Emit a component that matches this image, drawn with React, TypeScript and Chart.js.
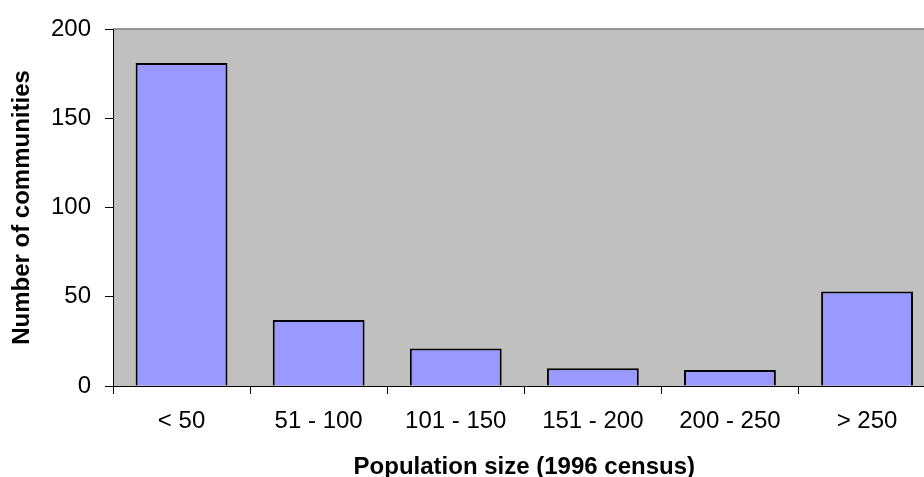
import React, { useEffect, useRef } from "react";
import { Chart, registerables } from "chart.js";

Chart.register(...registerables);

const categories = ["< 50", "51 - 100", "101 - 150", "151 - 200", "200 - 250", "> 250"];
const communities = [181, 37, 21, 10, 9, 53];
const yTicks = [0, 50, 100, 150, 200];
const xTitle = "Population size (1996 census)";
const yTitle = "Number of communities";

const FONT = "'Liberation Sans', Arial, sans-serif";

const plotBg = {
  id: "plotBg",
  beforeDraw(chart: any) {
    const { ctx, chartArea } = chart;
    if (!chartArea) return;
    ctx.save();
    ctx.fillStyle = "#C0C0C0";
    ctx.fillRect(chartArea.left, chartArea.top, chartArea.right - chartArea.left, chartArea.bottom - chartArea.top);
    ctx.strokeStyle = "#808080";
    ctx.lineWidth = 1.5;
    ctx.beginPath();
    ctx.moveTo(chartArea.left, chartArea.top);
    ctx.lineTo(chartArea.right, chartArea.top);
    ctx.lineTo(chartArea.right, chartArea.bottom);
    ctx.stroke();
    ctx.restore();
  },
};

export default function App() {
  const ref = useRef<HTMLCanvasElement | null>(null);
  useEffect(() => {
    if (!ref.current) return;
    const chart = new Chart(ref.current, {
      type: "bar",
      data: {
        labels: categories,
        datasets: [
          {
            data: communities,
            backgroundColor: "#9999FF",
            borderColor: "#000000",
            borderWidth: 2,
            categoryPercentage: 1,
            barPercentage: 0.67,
          },
        ],
      },
      plugins: [plotBg],
      options: {
        animation: false,
        responsive: false,
        devicePixelRatio: 1,
        layout: { padding: { top: 29, right: 24.4, bottom: 0, left: 0 } },
        plugins: { legend: { display: false }, tooltip: { enabled: false } },
        scales: {
          x: {
            afterFit(scale: any) {
              scale.height = 104;
            },
            grid: { drawOnChartArea: false, drawTicks: true, tickLength: 8, color: "#000", offset: true },
            border: { display: true, color: "#000", width: 1 },
            ticks: { color: "#000", padding: 13, font: { family: FONT, size: 24 }, maxRotation: 0 },
            title: {
              display: true,
              text: xTitle,
              color: "#000",
              font: { family: FONT, size: 24, weight: "bold" },
              padding: { top: 0, bottom: 8.6 },
            },
          },
          y: {
            min: 0,
            max: 200,
            afterFit(scale: any) {
              scale.width = 113;
            },
            afterBuildTicks(scale: any) {
              scale.ticks = yTicks.map((v) => ({ value: v }));
            },
            grid: { drawOnChartArea: false, drawTicks: true, tickLength: 8, color: "#000" },
            border: { display: true, color: "#000", width: 1 },
            ticks: { color: "#000", padding: 14, font: { family: FONT, size: 24 } },
            title: {
              display: true,
              text: yTitle,
              color: "#000",
              font: { family: FONT, size: 24, weight: "bold" },
              padding: { top: 7.6, bottom: 0 },
            },
          },
        },
      },
    });
    return () => chart.destroy();
  }, []);
  return (
    <div style={{ position: "fixed", left: 0, top: 0, width: 924, height: 477, overflow: "hidden", background: "#fff" }}>
      <canvas ref={ref} width={960} height={490} style={{ display: "block", width: 960, height: 490 }} />
    </div>
  );
}
